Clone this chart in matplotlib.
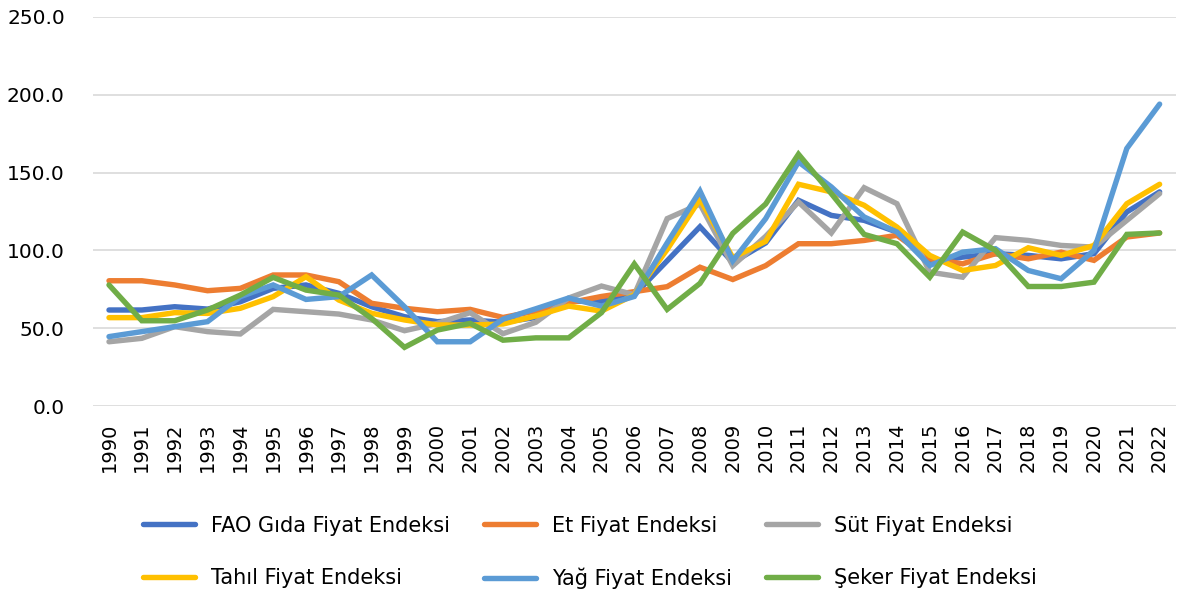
import matplotlib
matplotlib.use("Agg")
import matplotlib.pyplot as plt

years = [str(y) for y in range(1990, 2023)]

fao_food = [61.7, 61.7, 63.8, 62.3, 67.0, 75.6, 77.8, 72.4, 63.8, 57.4, 54.2, 55.3,
            53.8, 56.9, 67.3, 67.3, 71.5, 93.3, 115.2, 92.3, 104.8, 132.2, 122.5, 119.3,
            111.8, 92.5, 95.7, 97.9, 96.8, 94.6, 97.9, 124.7, 137.6]
meat = [80.5, 80.5, 77.8, 74.1, 75.6, 84.2, 84.2, 79.9, 66.0, 62.8, 60.6, 62.1,
        56.9, 61.0, 66.3, 70.4, 73.5, 76.7, 89.2, 81.3, 90.2, 104.3, 104.3, 106.4,
        109.7, 94.6, 91.4, 97.9, 94.6, 98.9, 93.6, 108.6, 111.2]
dairy = [41.3, 43.5, 51.0, 47.8, 46.3, 62.1, 60.6, 59.1, 55.3, 48.4, 53.1, 60.0,
         46.5, 53.8, 69.4, 77.1, 71.5, 120.4, 129.8, 90.2, 109.0, 131.1, 111.2, 140.3,
         130.0, 86.0, 82.8, 108.2, 106.4, 103.2, 102.1, 119.3, 136.5]
cereals = [56.8, 56.8, 60.0, 59.5, 62.8, 70.3, 83.1, 68.1, 59.6, 55.3, 52.1, 52.0,
           52.7, 57.9, 64.2, 61.0, 71.5, 100.6, 132.9, 95.4, 105.8, 142.5, 137.6, 129.0,
           115.0, 96.8, 87.1, 90.3, 101.7, 96.8, 103.2, 130.0, 142.5]
oils = [44.6, 47.8, 51.0, 54.2, 70.3, 77.8, 68.5, 70.3, 84.2, 63.8, 41.3, 41.3,
        55.8, 62.5, 69.4, 64.2, 70.4, 104.8, 138.1, 93.3, 120.4, 156.9, 140.8, 121.5,
        111.8, 90.3, 98.9, 101.1, 87.1, 81.8, 100.0, 165.5, 194.0]
sugar = [77.8, 54.8, 54.8, 61.7, 71.3, 82.7, 74.5, 71.3, 56.3, 37.7, 48.8, 53.1,
         42.3, 43.8, 43.8, 60.0, 91.3, 62.1, 78.8, 111.0, 129.8, 161.8, 136.5, 110.3,
         104.3, 82.8, 111.8, 100.0, 76.8, 76.8, 79.6, 110.3, 111.2]

series_names = ["FAO Gıda Fiyat Endeksi", "Et Fiyat Endeksi", "Süt Fiyat Endeksi",
                "Tahıl Fiyat Endeksi", "Yağ Fiyat Endeksi", "Şeker Fiyat Endeksi"]
series_values = [fao_food, meat, dairy, cereals, oils, sugar]
colors = ["#4472C4", "#ED7D31", "#A5A5A5", "#FFC000", "#5B9BD5", "#70AD47"]
yticks = [0, 50, 100, 150, 200, 250]

plt.rcParams['font.family'] = ['DejaVu Sans']

fig = plt.figure(figsize=(11.81, 6.0), dpi=100)
ax = fig.add_axes([0.0784, 0.3233, 0.9174, 0.6484])

x = list(range(len(years)))
for name, vals, c in zip(series_names, series_values, colors):
    ax.plot(x, vals, color=c, lw=3.9, label=name, solid_capstyle='round',
            solid_joinstyle='miter')

ax.set_xlim(-0.5, len(years) - 0.5)
ax.set_ylim(0, 250)
ax.set_yticks(yticks)
ax.set_yticklabels([f"{v:.1f}" for v in yticks])
ax.set_xticks(x)
ax.set_xticklabels(years, rotation=90)
ax.tick_params(axis='y', length=0, labelsize=14.5, colors='#000000', pad=20)
ax.tick_params(axis='x', length=0, labelsize=14, colors='#000000', pad=12)
ax.grid(axis='y', color='#D9D9D9', lw=1.2)
ax.set_axisbelow(True)
for s in ax.spines.values():
    s.set_visible(False)

handles, labels = ax.get_legend_handles_labels()
# reorder for row-major filling with ncol=3
order = [0, 3, 1, 4, 2, 5]
fig.legend([handles[i] for i in order], [labels[i] for i in order],
           loc='center', bbox_to_anchor=(0.4995, 0.079), ncol=3, frameon=False,
           fontsize=15, handlelength=2.5, handletextpad=0.8, columnspacing=1.6,
           labelspacing=1.55)

fig.savefig("out.png", dpi=100)
